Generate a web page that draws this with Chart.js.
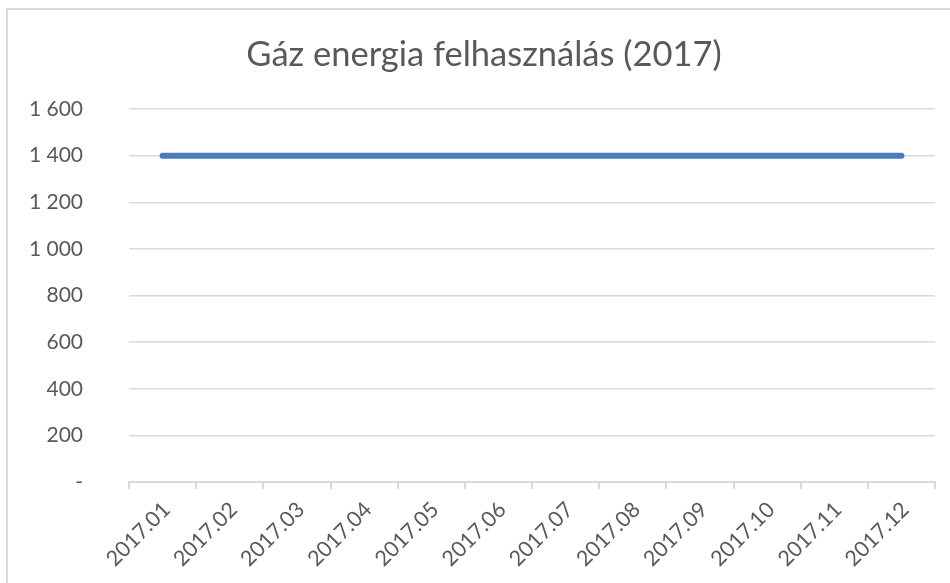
<!DOCTYPE html>
<html>
<head>
<meta charset="utf-8">
<script src="https://cdn.jsdelivr.net/npm/chart.js@4.4.1/dist/chart.umd.min.js"></script>
<style>
  body { margin: 0; background: #fff; }
  #frame { position: absolute; left: 6px; top: 8px; width: 980px; height: 620px; border: 2px solid #d9d9d9; }
  #wrap { position: absolute; left: 0; top: 0; width: 950px; height: 583px; }
</style>
</head>
<body>
<div id="frame"></div>
<div id="wrap"><canvas id="gasChart" width="950" height="583"></canvas></div>
<script>
const months = ['2017.01', '2017.02', '2017.03', '2017.04', '2017.05', '2017.06',
                '2017.07', '2017.08', '2017.09', '2017.10', '2017.11', '2017.12'];
const gasUsage = [1400, 1400, 1400, 1400, 1400, 1400, 1400, 1400, 1400, 1400, 1400, 1400];
const yTicks = [0, 200, 400, 600, 800, 1000, 1200, 1400, 1600];
const chartTitle = 'Gáz energia felhasználás (2017)';

const textColor = '#595959';
const gridColor = '#d9d9d9';

function formatHu(v) {
    if (v === 0) return '-';
    return String(v).replace(/\B(?=(\d{3})+(?!\d))/g, ' ');
}

// Excel centers the title on the whole chart box, not the canvas
const titlePlugin = {
    id: 'excelTitle',
    afterDraw(chart) {
        const ctx = chart.ctx;
        ctx.save();
        ctx.font = '34.5px Lato';
        ctx.fillStyle = textColor;
        ctx.textAlign = 'center';
        ctx.textBaseline = 'middle';
        ctx.fillText(chartTitle, 484, 55);
        ctx.restore();
    }
};

const ctx = document.getElementById('gasChart').getContext('2d');
new Chart(ctx, {
    type: 'line',
    data: {
        labels: months,
        datasets: [{
            label: 'Gáz',
            data: gasUsage,
            borderColor: '#4a7cc0',
            borderWidth: 6,
            borderCapStyle: 'round',
            pointRadius: 0,
            fill: false,
            tension: 0
        }]
    },
    options: {
        responsive: false,
        animation: false,
        layout: { padding: { top: 109, right: 15, left: 0, bottom: 0 } },
        plugins: {
            legend: { display: false },
            title: { display: false },
            tooltip: { enabled: false }
        },
        scales: {
            x: {
                offset: true,
                grid: {
                    offset: true,
                    drawOnChartArea: false,
                    drawTicks: true,
                    tickLength: 7,
                    color: gridColor,
                    lineWidth: 2
                },
                border: { color: gridColor, width: 2 },
                ticks: {
                    color: textColor,
                    font: { family: 'Lato', size: 21.5 },
                    minRotation: 45,
                    maxRotation: 45,
                    padding: 8,
                    labelOffset: 4
                },
                afterFit(scale) { scale.height = 101; }
            },
            y: {
                min: 0,
                max: 1600,
                afterBuildTicks(scale) { scale.ticks = yTicks.map(v => ({ value: v })); },
                grid: { color: gridColor, lineWidth: 1.5, drawTicks: false },
                border: { display: false },
                ticks: {
                    color: textColor,
                    font: { family: 'Lato', size: 21 },
                    padding: 46,
                    callback: (v) => formatHu(v)
                },
                afterFit(scale) { scale.width = 129; }
            }
        }
    },
    plugins: [titlePlugin]
});
</script>
</body>
</html>
